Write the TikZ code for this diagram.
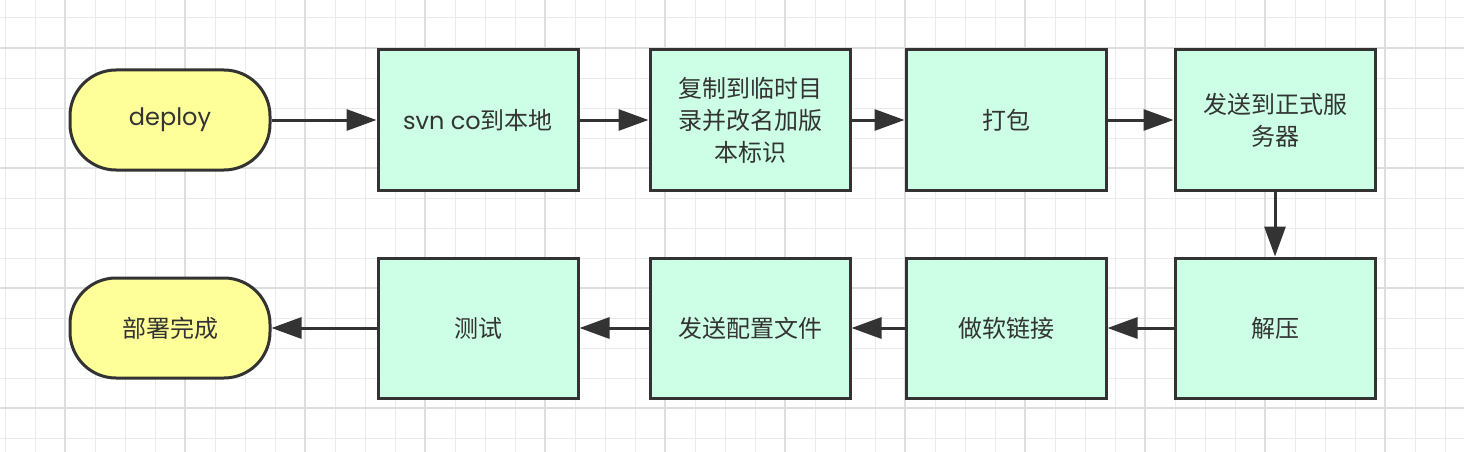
\documentclass[tikz,border=0pt]{standalone}
\usepackage{fontspec}
\setmainfont{Poppins}
\newfontfamily\cjk{Noto Sans CJK SC}
\usetikzlibrary{arrows.meta}
\definecolor{gridminor}{RGB}{234,234,234}
\definecolor{gridmajor}{RGB}{222,222,222}
\definecolor{termfill}{RGB}{255,255,153}
\definecolor{stepfill}{RGB}{204,255,230}
\definecolor{edge}{RGB}{51,51,51}
\tikzset{
  terminal/.style={draw=edge,line width=3pt,fill=termfill,rounded corners=46pt,
    minimum width=200pt,minimum height=100pt,inner sep=0pt,
    font=\fontsize{24}{32}\selectfont,text=edge},
  stepbox/.style={draw=edge,line width=3pt,fill=stepfill,
    minimum width=200pt,minimum height=140pt,inner sep=0pt,align=center,
    font=\fontsize{24}{32}\selectfont\cjk,text=edge},
  flow/.style={draw=edge,line width=3pt,-{Triangle[length=30pt,width=21pt]}}
}

\begin{document}
\begin{tikzpicture}[x=1pt,y=-1pt]
\useasboundingbox (0,0) rectangle (1464,452);
\fill[white] (0,0) rectangle (1464,452);
\foreach \gx in {5,35,...,1464} \draw[gridminor,line width=1pt] (\gx,0) -- (\gx,452);
\foreach \gy in {18,48,...,452} \draw[gridminor,line width=1pt] (0,\gy) -- (1464,\gy);
\foreach \gx in {65,185,...,1464} \draw[gridmajor,line width=1.6pt] (\gx,0) -- (\gx,452);
\foreach \gy in {48,168,...,452} \draw[gridmajor,line width=1.6pt] (0,\gy) -- (1464,\gy);

\node[terminal] (deploy) at (170,120) {deploy};
\node[stepbox] (svn) at (478,120) {\fontspec{Poppins}svn co{\cjk 到本地}};
\node[stepbox] (copy) at (750,120) {复制到临时目\\录并改名加版\\本标识};
\node[stepbox] (pack) at (1006,120) {打包};
\node[stepbox] (send) at (1275,120) {发送到正式服\\务器};
\node[stepbox] (unzip) at (1275,328) {解压};
\node[stepbox] (link) at (1006,328) {做软链接};
\node[stepbox] (conf) at (750,328) {发送配置文件};
\node[stepbox] (test) at (478,328) {测试};
\node[terminal,font=\fontsize{24}{32}\selectfont\cjk] (done) at (170,328) {部署完成};

\draw[flow] (deploy) -- (svn);
\draw[flow] (svn) -- (copy);
\draw[flow] (copy) -- (pack);
\draw[flow] (pack) -- (send);
\draw[flow] (send) -- (unzip);
\draw[flow] (unzip) -- (link);
\draw[flow] (link) -- (conf);
\draw[flow] (conf) -- (test);
\draw[flow] (test) -- (done);

\end{tikzpicture}
\end{document}
